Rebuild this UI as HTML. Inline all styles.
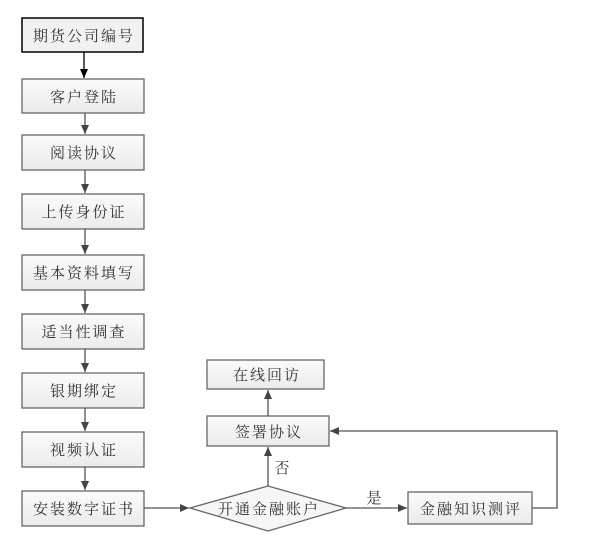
<!DOCTYPE html>
<html><head><meta charset="utf-8"><style>
html,body{margin:0;padding:0;background:#fff;}
svg text{font-family:"Liberation Serif","Noto Serif CJK SC",serif;font-size:15px;fill:#333;letter-spacing:2px;}
</style></head><body>
<svg width="615" height="536" viewBox="0 0 615 536" xmlns="http://www.w3.org/2000/svg">
<defs>
<linearGradient id="g" x1="0" y1="0" x2="0" y2="1"><stop offset="0" stop-color="#fbfbfb"/><stop offset="1" stop-color="#ebebeb"/></linearGradient>
<marker id="a" markerWidth="10" markerHeight="10" refX="9" refY="5" orient="auto" markerUnits="userSpaceOnUse"><path d="M0,1 L9,5 L0,9 Z" fill="#444"/></marker>
<marker id="ab" markerWidth="10" markerHeight="10" refX="9" refY="5" orient="auto" markerUnits="userSpaceOnUse"><path d="M0,1 L9,5 L0,9 Z" fill="#000"/></marker>
</defs>
<g stroke="#666" stroke-width="1.3" fill="url(#g)">
<rect x="22" y="18" width="121" height="34" fill="#f1f1f1" stroke="#000" stroke-width="1.5"/>
<rect x="22" y="79" width="122" height="34"/>
<rect x="22" y="135" width="122" height="35"/>
<rect x="22" y="194" width="122" height="35"/>
<rect x="22" y="255" width="122" height="35"/>
<rect x="22" y="314" width="122" height="35"/>
<rect x="22" y="373" width="122" height="35"/>
<rect x="22" y="432" width="122" height="35"/>
<rect x="22" y="491" width="122" height="35"/>
<rect x="207" y="360" width="117" height="29"/>
<rect x="207" y="416" width="122" height="30"/>
<rect x="408" y="492" width="124" height="32"/>
<polygon points="190,508 268,486 346,508 268,531" fill="#f6f6f6"/>
</g>
<line x1="84" y1="52" x2="84" y2="78" stroke="#000" stroke-width="1.3" marker-end="url(#ab)"/>
<g stroke="#555" stroke-width="1.3" fill="none" marker-end="url(#a)">
<line x1="85" y1="113" x2="85" y2="134"/>
<line x1="85" y1="170" x2="85" y2="193"/>
<line x1="85" y1="229" x2="85" y2="254"/>
<line x1="85" y1="290" x2="85" y2="313"/>
<line x1="85" y1="349" x2="85" y2="372"/>
<line x1="85" y1="408" x2="85" y2="431"/>
<line x1="85" y1="467" x2="85" y2="490"/>
<line x1="144" y1="508" x2="189" y2="508"/>
<line x1="346" y1="508" x2="407" y2="508"/>
<line x1="268" y1="486" x2="268" y2="447"/>
<line x1="268" y1="416" x2="268" y2="390"/>
<polyline points="532,508 557,508 557,431 330,431"/>
</g>
<g text-anchor="middle">
<text x="84" y="41" fill="#6a7a95">期货公司编号</text>
<text x="84" y="102">客户登陆</text>
<text x="84" y="158">阅读协议</text>
<text x="84" y="217">上传身份证</text>
<text x="84" y="278">基本资料填写</text>
<text x="84" y="337">适当性调查</text>
<text x="84" y="396">银期绑定</text>
<text x="84" y="455">视频认证</text>
<text x="84" y="514">安装数字证书</text>
<text x="267" y="380">在线回访</text>
<text x="269" y="437">签署协议</text>
<text x="471" y="514">金融知识测评</text>
<text x="269" y="514">开通金融账户</text>
<text x="375" y="503">是</text>
<text x="283" y="473">否</text>
</g>
</svg>
</body></html>
